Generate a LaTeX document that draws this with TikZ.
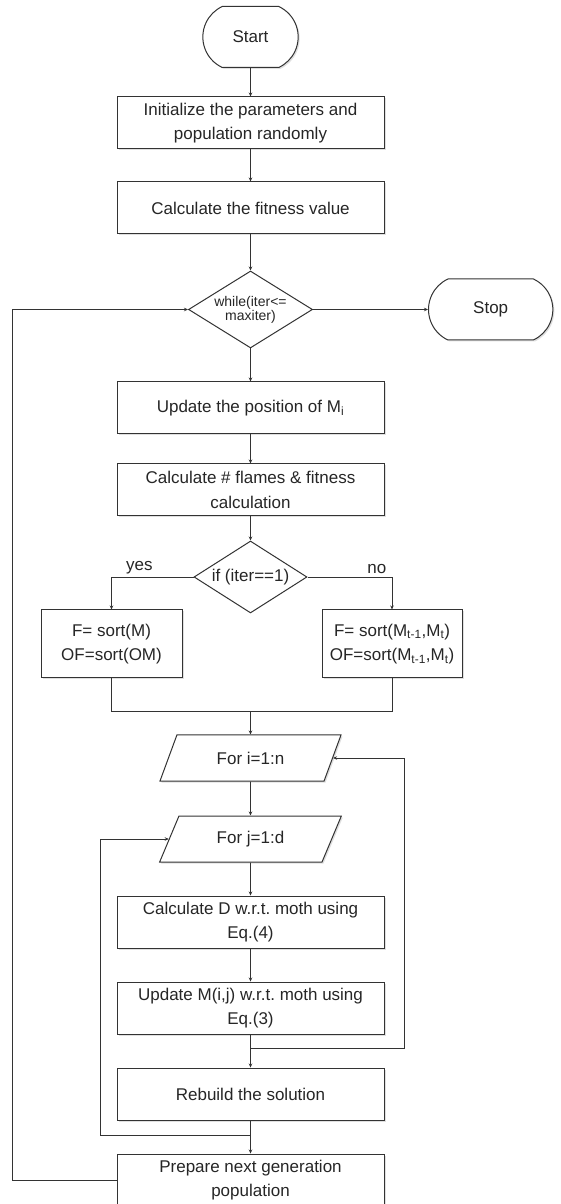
\documentclass[tikz,border=0pt]{standalone}
\usepackage{fontspec}
\setmainfont{Liberation Sans}
\usetikzlibrary{shapes,arrows.meta,calc,positioning,shadows}

\begin{document}
\begin{tikzpicture}[x=1pt,y=1pt,->,>={Stealth[length=4pt,width=3.5pt]},auto,node distance=33pt,
		line width=0.8pt, draw=black!80, text=black!85,
		font=\fontsize{17}{24.5}\selectfont,
		proc node/.style={rectangle, draw, line width=1pt, fill=white, align=center, inner sep=2pt,
			minimum height=52pt, minimum width=267pt, drop shadow={shadow xshift=1.5pt, shadow yshift=-1.5pt, opacity=.25}},
		side node/.style={proc node, minimum height=68pt, minimum width=141pt},
		term node/.style={rounded rectangle, rounded rectangle arc length=130, draw, line width=1pt, fill=white,
			minimum height=61pt, minimum width=102pt, drop shadow={shadow xshift=1.5pt, shadow yshift=-1.5pt, opacity=.25}},
		dec node/.style={diamond, draw, line width=1pt, fill=white, aspect=1.6, inner sep=0pt, align=center},
		loop node/.style={trapezium, trapezium left angle=66, trapezium right angle=114, draw, line width=1pt, fill=white,
			minimum height=46pt, minimum width=182pt, trapezium stretches=true, drop shadow={shadow xshift=1.5pt, shadow yshift=-1.5pt, opacity=.25}}]

	\useasboundingbox (0,0) rectangle (560,1204);

	\node[term node] (start) at (250.5,1167) {Start};
	\node[proc node] (init) [below=28.5pt of start] {Initialize the parameters and\\population randomly};
	\node[proc node] (fitness) [below=32pt of init] {Calculate the fitness value};
	\node[dec node, minimum width=124pt, minimum height=77pt, font=\fontsize{14}{13}\selectfont] (while) [below=36pt of fitness] {while(iter<=\\maxiter)};
	\node[term node, minimum width=131pt] (stop) [right=115pt of while] {Stop};
	\node[proc node] (update) [below=of while] {Update the position of M\textsubscript{i}};
	\node[proc node] (flames) [below=29pt of update] {Calculate \# flames \& fitness\\calculation};
	\node[dec node, minimum width=113pt, minimum height=72pt] (if) [below=24pt of flames] {if (iter==1)};
	\node[side node] (yesbox) [below=-4pt of if, xshift=-139pt] {F= sort(M)\\OF=sort(OM)};
	\node[side node, minimum width=140pt] (nobox) [below=-4pt of if, xshift=141.5pt] {F= sort(M\textsubscript{t-1},M\textsubscript{t})\\OF=sort(M\textsubscript{t-1},M\textsubscript{t})};
	\node[loop node] (fori) [below=121pt of if] {For i=1:n};
	\node[loop node] (forj) [below=34pt of fori] {For j=1:d};
	\node[proc node] (calcd) [below=of forj] {Calculate D w.r.t.\ moth using\\Eq.(4)};
	\node[proc node] (updm) [below=of calcd] {Update M(i,j) w.r.t.\ moth using\\Eq.(3)};
	\node[proc node] (rebuild) [below=of updm] {Rebuild the solution};
	\node[proc node] (prepare) [below=of rebuild] {Prepare next generation\\population};

	\coordinate[above=23pt of fori] (merge);
	\coordinate[below=14pt of updm] (ijoin);
	\coordinate[right=154pt of ijoin] (icorner);
	\coordinate[below=15pt of rebuild] (jjoin);
	\coordinate[left=150pt of jjoin] (jcorner);
	\coordinate[left=104pt of prepare.west] (outer);

	\path	(start) 	edge (init);
	\path	(init) 		edge (fitness);
	\path	(fitness) 	edge (while);
	\path	(while) 	edge (update)
						edge (stop);
	\path	(update) 	edge (flames);
	\path	(flames) 	edge (if);
	\path	(merge) 	edge (fori);
	\path	(fori) 		edge (forj);
	\path	(forj) 		edge (calcd);
	\path	(calcd) 	edge (updm);
	\path	(updm) 		edge (rebuild);
	\path	(rebuild) 	edge (prepare);

	\draw (if) -| node[pos=.33, above, inner sep=3pt]{yes} (yesbox);
	\draw (if) -| node[pos=.41, above, inner sep=3pt]{no} (nobox);
	\draw[-] (yesbox) |- (merge) -| (nobox);
	\draw (ijoin) -- (icorner) |- (fori);
	\draw (jjoin) -- (jcorner) |- (forj);
	\draw (prepare) -- (outer) |- (while);
\end{tikzpicture}
\end{document}
